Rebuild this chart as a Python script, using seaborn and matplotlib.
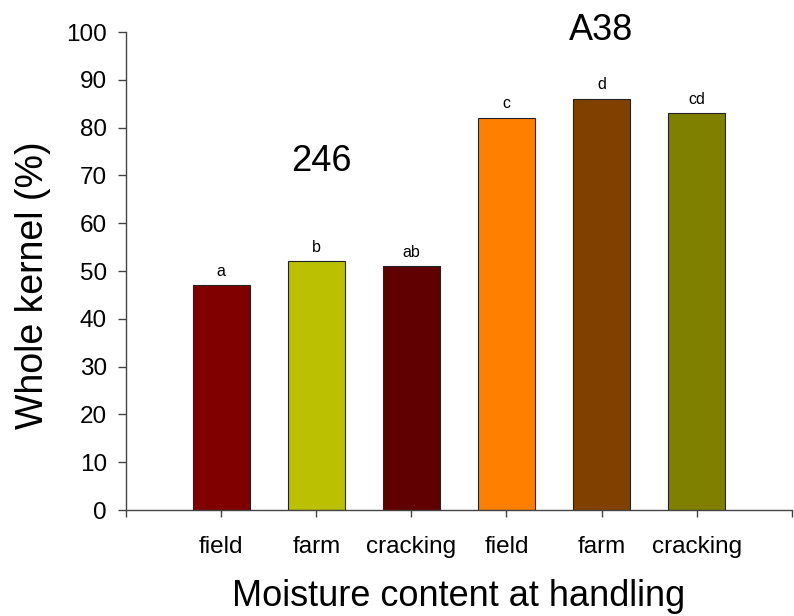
import matplotlib
matplotlib.use("Agg")
import matplotlib.pyplot as plt
import seaborn as sns
import pandas as pd

categories = ["field", "farm", "cracking", "field", "farm", "cracking"]
values = [47, 52, 51, 82, 86, 83]
letters = ["a", "b", "ab", "c", "d", "cd"]
colors = ["#800000", "#BBC000", "#600000", "#FF8000", "#804000", "#808000"]
groups = ["246", "A38"]

sns.set_style("white")
plt.rcParams["font.family"] = ["Liberation Sans", "DejaVu Sans"]
plt.rcParams["text.color"] = "black"
plt.rcParams["axes.labelcolor"] = "black"
plt.rcParams["xtick.color"] = "black"
plt.rcParams["ytick.color"] = "black"

ids = [f"{i}" for i in range(len(values))]
df = pd.DataFrame({"id": ids, "value": values})

fig = plt.figure(figsize=(7.94, 6.16), dpi=100)
ax = fig.add_axes([0.159, 0.172, 0.838, 0.776])
sns.barplot(data=df, x="id", y="value", hue="id", palette=colors, legend=False,
            saturation=1, width=0.6, edgecolor="#222222", linewidth=0.8, ax=ax)

for i, (v, l) in enumerate(zip(values, letters)):
    ax.text(i, v + 1.4, l, ha="center", va="bottom", fontsize=11.5, color="black")

ax.text(1.05, 73, groups[0], ha="center", va="center", fontsize=26, color="black")
ax.text(4.0, 100.3, groups[1], ha="center", va="center", fontsize=26, color="black")

ax.set_xlim(-1, 6)
ax.set_ylim(0, 100)
ax.set_yticks(range(0, 101, 10))
ax.set_xticks(range(-1, 7))
ax.set_xticklabels([""] + categories + [""])
ax.tick_params(axis="y", direction="out", length=6, width=1, pad=8, labelsize=17.5,
               left=True, color="#444444", labelcolor="black")
ax.tick_params(axis="x", direction="out", length=5, width=1, pad=14, labelsize=17.5,
               bottom=True, color="#444444", labelcolor="black")
for s in ["top", "right"]:
    ax.spines[s].set_visible(False)
for s in ["left", "bottom"]:
    ax.spines[s].set_color("#444444")
    ax.spines[s].set_linewidth(1)

ax.set_xlabel("Moisture content at handling", fontsize=26, labelpad=15, color="black")
ax.set_ylabel("Whole kernel (%)", fontsize=27, color="black")
ax.yaxis.set_label_coords(-0.113, 0.47)

fig.savefig("out.png", dpi=100)
